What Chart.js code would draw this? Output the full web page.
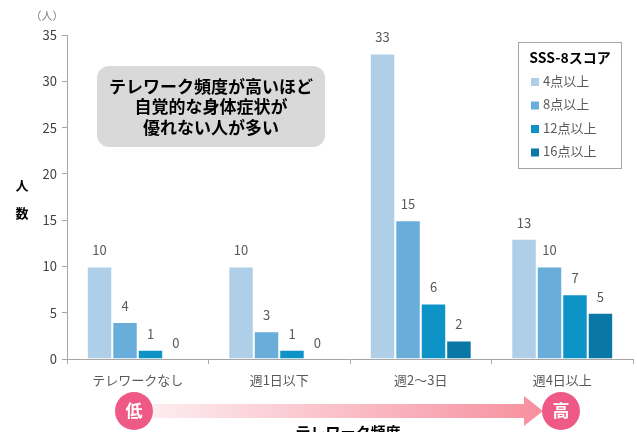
<!DOCTYPE html>
<html><head><meta charset="utf-8">
<script src="https://cdn.jsdelivr.net/npm/chart.js@4.4.1/dist/chart.umd.min.js"></script>
<style>html,body{margin:0;padding:0;background:#fff}canvas{display:block}</style>
</head><body>
<canvas id="c" width="637" height="432"></canvas>
<script>
const categories = ['テレワークなし', '週1日以下', '週2～3日', '週4日以上'];
const seriesNames = ['4点以上', '8点以上', '12点以上', '16点以上'];
const s4 = [10, 10, 33, 13];
const s8 = [4, 3, 15, 10];
const s12 = [1, 1, 6, 7];
const s16 = [0, 0, 2, 5];
const yTicks = [0, 5, 10, 15, 20, 25, 30, 35];
const colors = ['#afcee8', '#69aedb', '#0d93c6', '#0a78a4'];

const FONT = "'Noto Sans CJK JP', 'Noto Sans', sans-serif";
const GRAY = '#595959';

function rrect(ctx, x, y, w, h, r) {
  ctx.beginPath();
  ctx.moveTo(x + r, y);
  ctx.lineTo(x + w - r, y);
  ctx.arcTo(x + w, y, x + w, y + r, r);
  ctx.lineTo(x + w, y + h - r);
  ctx.arcTo(x + w, y + h, x + w - r, y + h, r);
  ctx.lineTo(x + r, y + h);
  ctx.arcTo(x, y + h, x, y + h - r, r);
  ctx.lineTo(x, y + r);
  ctx.arcTo(x, y, x + r, y, r);
  ctx.closePath();
}

const deco = {
  id: 'deco',
  afterDatasetsDraw(chart) {
    const ctx = chart.ctx;
    ctx.save();
    ctx.font = '13px ' + FONT;
    ctx.fillStyle = GRAY;
    ctx.textAlign = 'center';
    ctx.textBaseline = 'middle';
    chart.data.datasets.forEach((ds, i) => {
      const meta = chart.getDatasetMeta(i);
      meta.data.forEach((bar, j) => {
        ctx.fillText(String(ds.data[j]), bar.x, bar.y - 16);
      });
    });
    ctx.restore();
  },
  afterDraw(chart) {
    const ctx = chart.ctx;
    ctx.save();
    ctx.font = '11px ' + FONT;
    ctx.fillStyle = '#7f7f7f';
    ctx.textAlign = 'center';
    ctx.textBaseline = 'middle';
    ctx.fillText('（人）', 47, 16);
    ctx.font = 'bold 13px ' + FONT;
    ctx.fillStyle = '#000';
    ctx.fillText('人', 22, 185);
    ctx.fillText('数', 22, 213);

    rrect(ctx, 97, 66, 228, 81, 12);
    ctx.fillStyle = '#d9d9d9';
    ctx.fill();
    ctx.fillStyle = '#000';
    ctx.font = 'bold 17px ' + FONT;
    ctx.fillText('テレワーク頻度が高いほど', 211, 87);
    ctx.fillText('自覚的な身体症状が', 211, 107);
    ctx.fillText('優れない人が多い', 211, 128);

    ctx.fillStyle = '#fff';
    ctx.fillRect(518.5, 42.5, 103, 126);
    ctx.strokeStyle = '#a6a6a6';
    ctx.lineWidth = 1;
    ctx.strokeRect(518.5, 42.5, 103, 126);
    ctx.fillStyle = '#000';
    ctx.font = 'bold 14px ' + FONT;
    ctx.fillText('SSS-8スコア', 570, 58);
    ctx.textAlign = 'left';
    ctx.font = '13px ' + FONT;
    chart.data.datasets.forEach((ds, i) => {
      const y = 81 + i * 23.5;
      ctx.fillStyle = ds.backgroundColor;
      ctx.fillRect(531, y - 3, 8, 8);
      ctx.fillStyle = GRAY;
      ctx.fillText(ds.label, 543, y);
    });

    const g = ctx.createLinearGradient(153, 0, 540, 0);
    g.addColorStop(0, '#fdecef');
    g.addColorStop(1, '#f7909f');
    ctx.fillStyle = g;
    ctx.beginPath();
    ctx.moveTo(153, 404);
    ctx.lineTo(524, 404);
    ctx.lineTo(524, 396);
    ctx.lineTo(543, 411);
    ctx.lineTo(524, 426);
    ctx.lineTo(524, 418);
    ctx.lineTo(153, 418);
    ctx.closePath();
    ctx.fill();

    [[134, '低'], [561, '高']].forEach(([cx, t]) => {
      ctx.beginPath();
      ctx.arc(cx, 411, 19, 0, Math.PI * 2);
      ctx.fillStyle = '#ee5a85';
      ctx.fill();
      ctx.fillStyle = '#fff';
      ctx.font = 'bold 17px ' + FONT;
      ctx.textAlign = 'center';
      ctx.fillText(t, cx, 411);
    });

    ctx.fillStyle = '#000';
    ctx.font = 'bold 15px ' + FONT;
    ctx.textAlign = 'center';
    ctx.fillText('テレワーク頻度', 348, 432);
    ctx.restore();
  }
};

const seriesData = [s4, s8, s12, s16];
new Chart(document.getElementById('c'), {
  type: 'bar',
  data: {
    labels: categories,
    datasets: seriesData.map((d, i) => ({
      label: seriesNames[i],
      data: d,
      backgroundColor: colors[i],
      borderColor: 'rgba(255,255,255,0.25)',
      borderWidth: 1,
      barPercentage: 1,
      categoryPercentage: 0.72
    }))
  },
  options: {
    responsive: false,
    animation: false,
    devicePixelRatio: 1,
    layout: { padding: { left: 0, right: 4, top: 35, bottom: 0 } },
    plugins: { legend: { display: false }, tooltip: { enabled: false } },
    scales: {
      x: {
        afterFit(s) { s.height = 73; },
        grid: { display: true, drawOnChartArea: false, offset: true, tickLength: 5, color: '#a6a6a6', tickColor: '#a6a6a6' },
        border: { color: '#a6a6a6', width: 1 },
        ticks: { color: GRAY, font: { family: FONT, size: 13 }, padding: 8, maxRotation: 0 }
      },
      y: {
        min: 0, max: 35,
        afterFit(s) { s.width = 67; },
        afterBuildTicks(s) { s.ticks = yTicks.map(v => ({ value: v })); },
        grid: { display: true, drawOnChartArea: false, tickLength: 5, color: '#a6a6a6', tickColor: '#a6a6a6' },
        border: { color: '#a6a6a6', width: 1 },
        ticks: { color: '#404040', font: { family: FONT, size: 13 }, padding: 5 }
      }
    }
  },
  plugins: [deco]
});
</script>
</body></html>
